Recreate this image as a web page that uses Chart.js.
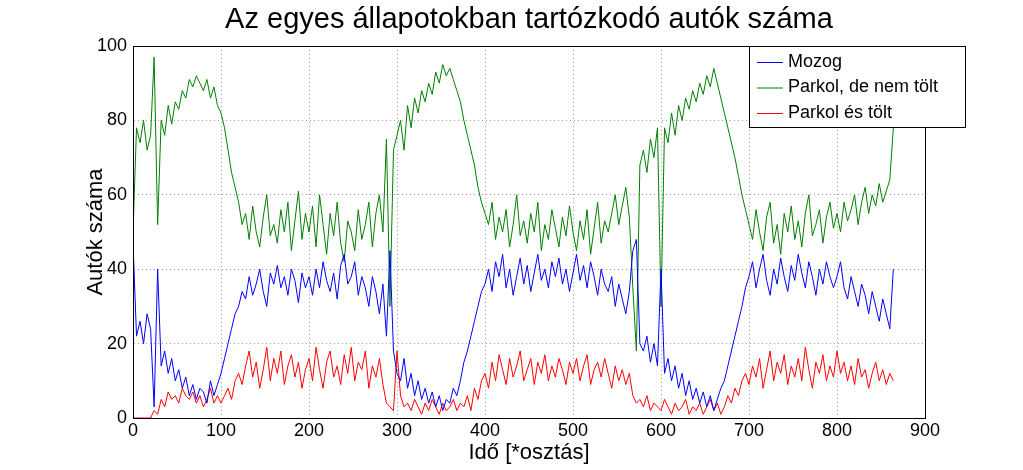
<!DOCTYPE html>
<html>
<head>
<meta charset="utf-8">
<script src="https://cdn.jsdelivr.net/npm/chart.js@4/dist/chart.umd.min.js"></script>
<style>
  html, body { margin: 0; padding: 0; background: #fff; }
  #wrap { width: 1023px; height: 470px; }
</style>
</head>
<body>
<div id="wrap"><canvas id="c" width="1023" height="470"></canvas></div>
<script>
// samples every STEP time units
const STEP = 4;
const seriesNames = ['Mozog', 'Parkol, de nem tölt', 'Parkol és tölt'];
const xTicks = [0, 100, 200, 300, 400, 500, 600, 700, 800, 900];
const yTicks = [0, 20, 40, 60, 80, 100];

const mozog = [
  47,22,26,20,28,24,3,40,14,18,12,16,10,13,8,11,6,9,5,8,7,4,10,6,9,
  12,16,20,24,28,30,34,32,38,33,36,40,34,30,39,36,41,35,38,33,40,37,31,39,35,
  38,33,40,35,42,37,34,39,32,41,44,36,38,42,33,38,35,30,38,34,28,36,22,45,18,
  12,10,16,8,12,6,10,5,8,4,7,3,6,2,5,4,8,6,10,15,18,22,26,30,34,
  36,40,34,42,38,44,35,40,33,38,43,36,41,34,39,44,37,40,35,42,38,43,36,40,34,
  39,44,37,41,35,42,38,33,40,36,34,38,30,36,32,28,34,45,48,20,18,22,15,20,14,
  40,12,16,10,14,8,12,6,10,5,8,4,7,3,6,2,5,8,10,14,18,22,26,30,35,
  38,42,35,40,44,37,33,40,36,43,38,34,41,37,44,39,35,42,38,33,40,36,42,38,35,
  38,42,35,32,38,34,30,36,33,28,34,30,26,32,28,24,40
];
const parkol = [
  50,78,74,80,72,76,97,52,80,76,84,79,85,83,88,86,91,89,92,90,88,91,86,89,84,
  82,78,72,66,62,58,52,55,48,57,50,46,54,60,49,52,47,56,50,58,45,53,61,48,55,
  50,57,46,60,52,44,55,49,58,47,42,53,50,45,56,48,52,58,46,55,60,50,75,30,72,
  76,80,72,84,78,86,82,88,85,90,87,93,90,95,92,94,91,88,85,80,76,72,68,62,58,
  55,52,58,48,54,50,56,46,52,60,49,53,47,55,50,58,45,52,48,56,51,46,54,49,57,
  50,45,53,48,56,44,51,58,47,53,50,55,60,52,57,62,54,35,18,68,72,66,75,70,78,
  30,78,74,82,76,84,80,86,83,88,85,90,87,92,89,94,90,86,82,78,74,70,65,60,56,
  52,48,56,50,45,54,58,47,52,44,55,50,57,48,53,46,55,60,49,52,56,47,54,58,51,
  55,50,58,53,56,60,52,58,62,55,60,57,63,58,61,64,78
];
const tolt = [
  0,0,0,0,0,0,2,1,5,3,7,5,6,4,8,6,5,7,4,6,3,5,8,4,6,
  4,6,8,5,10,12,9,14,18,11,15,8,13,19,10,16,12,18,9,14,17,11,15,8,13,
  16,10,19,13,8,15,18,11,14,9,17,12,19,10,15,13,18,8,14,11,16,9,4,3,2,
  18,6,3,4,2,5,3,1,4,2,5,3,1,4,2,3,5,2,4,3,6,2,8,5,10,
  12,8,15,10,17,13,9,16,11,14,18,10,13,16,9,15,12,17,10,14,11,16,13,9,15,
  12,16,10,14,17,9,13,15,11,16,12,8,14,10,13,9,12,6,4,5,3,6,2,4,3,
  2,5,3,1,4,2,3,5,1,3,2,4,1,3,5,2,4,1,3,6,4,8,6,10,12,
  9,14,11,16,8,13,18,10,15,12,17,9,14,11,16,10,19,13,8,15,12,17,10,14,11,
  18,12,15,10,14,9,16,11,13,8,12,15,10,13,9,12,10
];
const colors = ['#0000ff', '#008000', '#ff0000'];

function toPoints(arr) {
  return arr.map((v, i) => ({ x: i * STEP, y: v }));
}

// title, axis labels, box and legend drawn by hand (matlab look)
const decor = {
  id: 'decor',
  afterDraw(chart) {
    const ctx = chart.ctx;
    const a = chart.chartArea;
    ctx.save();
    ctx.strokeStyle = '#000';
    ctx.lineWidth = 1;
    ctx.strokeRect(a.left + 0.5, a.top + 0.5, a.right - a.left, a.bottom - a.top);

    ctx.fillStyle = '#000';
    ctx.textAlign = 'center';
    ctx.textBaseline = 'middle';
    ctx.font = '29px "Liberation Sans", Arial, sans-serif';
    ctx.fillText('Az egyes állapotokban tartózkodó autók száma', (a.left + a.right) / 2, 20);
    ctx.font = '22px "Liberation Sans", Arial, sans-serif';
    ctx.fillText('Idő [*osztás]', (a.left + a.right) / 2, 453);
    ctx.save();
    ctx.translate(96, (a.top + a.bottom) / 2);
    ctx.rotate(-Math.PI / 2);
    ctx.fillText('Autók száma', 0, 0);
    ctx.restore();

    // legend
    const lx = 749, ly = 46, lw = 216, lh = 81;
    ctx.fillStyle = '#fff';
    ctx.fillRect(lx, ly, lw, lh);
    ctx.strokeRect(lx + 0.5, ly + 0.5, lw, lh);
    ctx.font = '18px "Liberation Sans", Arial, sans-serif';
    ctx.textAlign = 'left';
    seriesNames.forEach((name, i) => {
      const y = ly + 16 + i * 25.5;
      ctx.strokeStyle = colors[i];
      ctx.beginPath();
      ctx.moveTo(lx + 8, y + 0.5);
      ctx.lineTo(lx + 34, y + 0.5);
      ctx.stroke();
      ctx.fillStyle = '#000';
      ctx.fillText(name, lx + 39, y);
    });
    ctx.restore();
  }
};

const tickFont = { family: '"Liberation Sans", Arial, sans-serif', size: 18 };

new Chart(document.getElementById('c'), {
  type: 'line',
  data: {
    datasets: [
      { label: seriesNames[0], data: toPoints(mozog), borderColor: colors[0] },
      { label: seriesNames[1], data: toPoints(parkol), borderColor: colors[1] },
      { label: seriesNames[2], data: toPoints(tolt), borderColor: colors[2] }
    ].map(d => Object.assign(d, { borderWidth: 1, pointRadius: 0, tension: 0, fill: false }))
  },
  options: {
    responsive: false,
    animation: false,
    layout: { padding: { top: 46, right: 98, left: 0, bottom: 0 } },
    plugins: { legend: { display: false }, tooltip: { enabled: false } },
    scales: {
      x: {
        type: 'linear', min: 0, max: 900,
        afterBuildTicks: s => { s.ticks = xTicks.map(v => ({ value: v })); },
        afterFit: s => { s.height = 52; },
        ticks: { color: '#000', font: tickFont, maxRotation: 0, padding: 2 },
        grid: { color: '#a0a0a0', tickLength: 0 },
        border: { color: '#000', dash: [1, 3] }
      },
      y: {
        min: 0, max: 100,
        afterBuildTicks: s => { s.ticks = yTicks.map(v => ({ value: v })); },
        afterFit: s => { s.width = 133; },
        ticks: { color: '#000', font: tickFont, padding: 6 },
        grid: { color: '#a0a0a0', tickLength: 0 },
        border: { color: '#000', dash: [1, 3] }
      }
    }
  },
  plugins: [decor]
});
</script>
</body>
</html>
